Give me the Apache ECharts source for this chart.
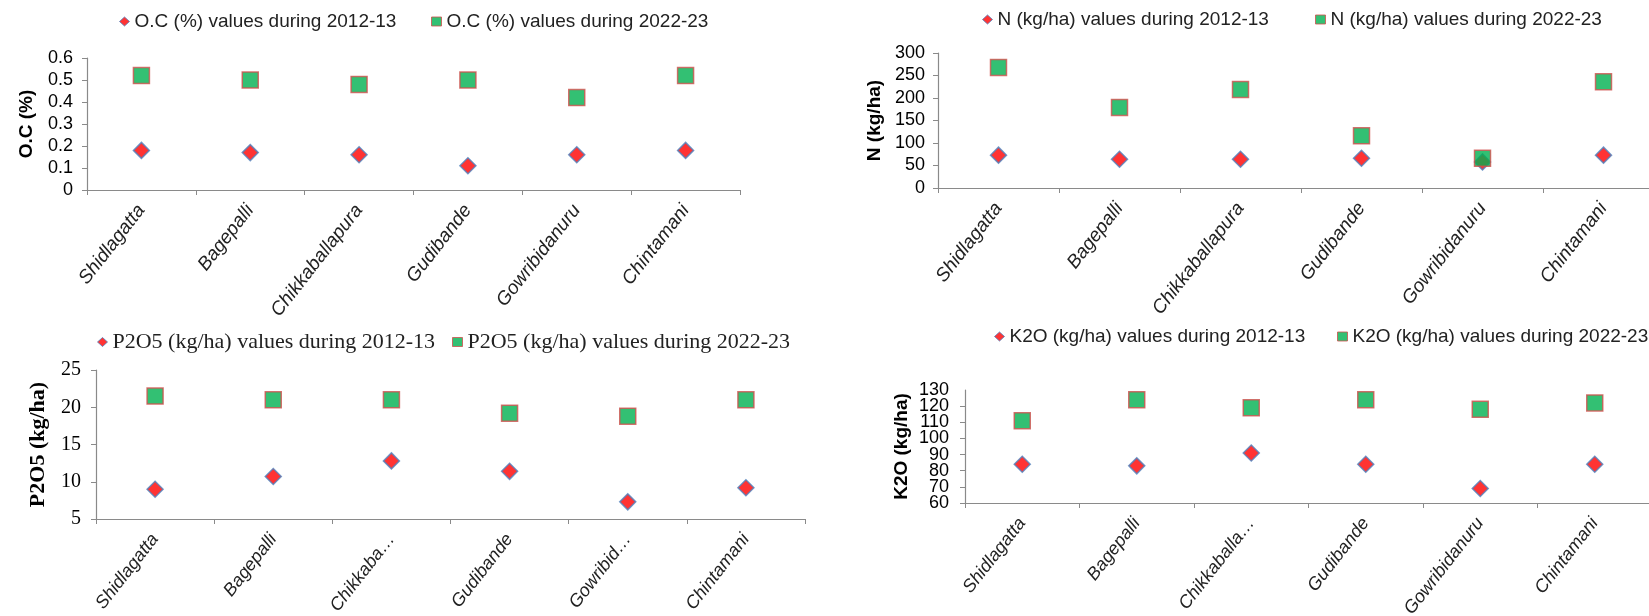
<!DOCTYPE html>
<html>
<head>
<meta charset="utf-8">
<script src="https://cdn.jsdelivr.net/npm/echarts@6/dist/echarts.min.js"></script>
<style>html,body{margin:0;padding:0;background:#fff}#c{width:1649px;height:616px}</style>
</head>
<body>
<div id="c"></div>
<script>
// ---- data ----
const ocTicks = ['Shidlagatta','Bagepalli','Chikkaballapura','Gudibande','Gowribidanuru','Chintamani'];
const nTicks  = ['Shidlagatta','Bagepalli','Chikkaballapura','Gudibande','Gowribidanuru','Chintamani'];
const pTicks  = ['Shidlagatta','Bagepalli','Chikkaba…','Gudibande','Gowribid…','Chintamani'];
const kTicks  = ['Shidlagatta','Bagepalli','Chikkaballa…','Gudibande','Gowribidanuru','Chintamani'];

const ocOld = [0.18, 0.17, 0.16, 0.11, 0.16, 0.18];
const ocNew = [0.52, 0.50, 0.48, 0.50, 0.42, 0.52];
const nOld  = [73, 64, 64, 66, 58, 73];
const nNew  = [268, 179, 219, 116, 66, 236];
const pOld  = [9.0, 10.7, 12.8, 11.4, 7.3, 9.2];
const pNew  = [21.5, 21.0, 21.0, 19.2, 18.8, 21.0];
const kOld  = [84, 83, 91, 84, 69, 84];
const kNew  = [111, 124, 119, 124, 118, 122];

const names = {
  ocOld: 'O.C (%) values during 2012-13', ocNew: 'O.C (%) values during 2022-23',
  nOld: 'N (kg/ha) values during 2012-13', nNew: 'N (kg/ha) values during 2022-23',
  pOld: 'P2O5 (kg/ha) values during 2012-13', pNew: 'P2O5 (kg/ha) values during 2022-23',
  kOld: 'K2O (kg/ha) values during 2012-13', kNew: 'K2O (kg/ha) values during 2022-23'
};

// ---- styles ----
const SANS = "'Liberation Sans', Arial, sans-serif";
const SERIF = "'Liberation Serif', 'Times New Roman', serif";
const AX = '#8a8a8a';
const diamondStyle = {color: '#ff0000', borderColor: '#4f81bd', borderWidth: 1.5};
const squareStyle = {color: '#00b050', borderColor: '#d0504d', borderWidth: 1.5};

const grids = [
  {left: 87, top: 58, width: 653, height: 132, outerBoundsMode: 'none', containLabel: false},
  {left: 938, top: 53, width: 726, height: 135, outerBoundsMode: 'none', containLabel: false},
  {left: 96, top: 370, width: 709, height: 149, outerBoundsMode: 'none', containLabel: false},
  {left: 965, top: 390, width: 687, height: 113, outerBoundsMode: 'none', containLabel: false}
];

function xAx(i, data, fs) {
  return {
    type: 'category', gridIndex: i, data: data,
    axisLine: {lineStyle: {color: AX, width: 1.2}},
    axisTick: {show: true, length: 5, lineStyle: {color: AX}},
    axisLabel: {rotate: 52, margin: 17, fontSize: fs, fontStyle: 'italic', color: '#222', fontFamily: SANS, interval: 0},
    splitLine: {show: false}
  };
}
function yAx(i, min, max, interval, name, font, fs, tfs, gap, margin) {
  return {
    type: 'value', gridIndex: i, position: 'left', min: min, max: max, interval: interval,
    name: name, nameLocation: 'middle', nameGap: gap, nameRotate: 90,
    nameTextStyle: {fontSize: fs, fontWeight: 'bold', color: '#000', fontFamily: font},
    axisLine: {show: true, lineStyle: {color: AX, width: 1.2}},
    axisTick: {show: true, length: 5, lineStyle: {color: AX}},
    axisLabel: {fontSize: tfs, color: '#000', fontFamily: font, margin: margin,
                showMinLabel: true, showMaxLabel: true, hideOverlap: false},
    splitLine: {show: false}
  };
}
function ser(name, i, yi, data, sym) {
  return {
    name: name, type: 'scatter', xAxisIndex: i, yAxisIndex: yi, data: data,
    symbol: sym === 'd' ? 'diamond' : 'rect', symbolSize: 16,
    itemStyle: sym === 'd' ? diamondStyle : squareStyle,
    emphasis: {disabled: true}
  };
}
function leg(name, left, top, font, fs, sym) {
  return {
    data: [{name: name, icon: sym === 'd' ? 'diamond' : 'rect'}],
    left: left, top: top, itemWidth: 10, itemHeight: 9, itemGap: 0,
    selectedMode: false,
    textStyle: {fontSize: fs, color: '#222', fontFamily: font},
    itemStyle: sym === 'd' ? {color: '#ff0000', borderColor: '#4f81bd', borderWidth: 1}
                           : {color: '#00b050', borderColor: '#d0504d', borderWidth: 1}
  };
}

// K2O axis: dense ticks, labels split across two overlaid left axes so none get dropped
const kAxisEven = yAx(3, 60, 130, 10, 'K2O (kg/ha)', SANS, 19, 18, 54, 16);
kAxisEven.axisLabel.formatter = v => (Math.round(v) % 20 === 0 ? String(v) : '');
kAxisEven.axisLabel.showMaxLabel = false;
const kAxisOdd = yAx(3, 60, 130, 10, '', SANS, 19, 18, 54, 16);
kAxisOdd.axisLine = {show: false};
kAxisOdd.axisTick = {show: false};
kAxisOdd.axisLabel.formatter = v => (Math.round(v) % 20 !== 0 ? String(v) : '');
kAxisOdd.axisLabel.showMinLabel = false;

const option = {
  animation: false,
  backgroundColor: '#fff',
  grid: grids,
  legend: [
    leg(names.ocOld, 114, 7, SANS, 19, 'd'),
    leg(names.ocNew, 426, 7, SANS, 19, 's'),
    leg(names.nOld, 977, 5, SANS, 19, 'd'),
    leg(names.nNew, 1310, 5, SANS, 19, 's'),
    leg(names.pOld, 92, 326, SERIF, 22, 'd'),
    leg(names.pNew, 447, 326, SERIF, 22, 's'),
    leg(names.kOld, 989, 322, SANS, 19, 'd'),
    leg(names.kNew, 1332, 322, SANS, 19, 's')
  ],
  xAxis: [xAx(0, ocTicks, 19), xAx(1, nTicks, 19), xAx(2, pTicks, 18), xAx(3, kTicks, 18)],
  yAxis: [
    yAx(0, 0, 0.6, 0.1, 'O.C (%)', SANS, 19, 18, 51, 14),
    yAx(1, 0, 300, 50, 'N (kg/ha)', SANS, 19, 18, 54, 13),
    yAx(2, 5, 25, 5, 'P2O5 (kg/ha)', SERIF, 22, 20, 47, 15),
    kAxisEven,
    kAxisOdd
  ],
  series: [
    ser(names.ocOld, 0, 0, ocOld, 'd'), ser(names.ocNew, 0, 0, ocNew, 's'),
    ser(names.nOld, 1, 1, nOld, 'd'), ser(names.nNew, 1, 1, nNew, 's'),
    ser(names.pOld, 2, 2, pOld, 'd'), ser(names.pNew, 2, 2, pNew, 's'),
    ser(names.kOld, 3, 3, kOld, 'd'), ser(names.kNew, 3, 3, kNew, 's')
  ]
};
const chart = echarts.init(document.getElementById('c'), null, {renderer: 'canvas'});
chart.setOption(option);
</script>
</body>
</html>
